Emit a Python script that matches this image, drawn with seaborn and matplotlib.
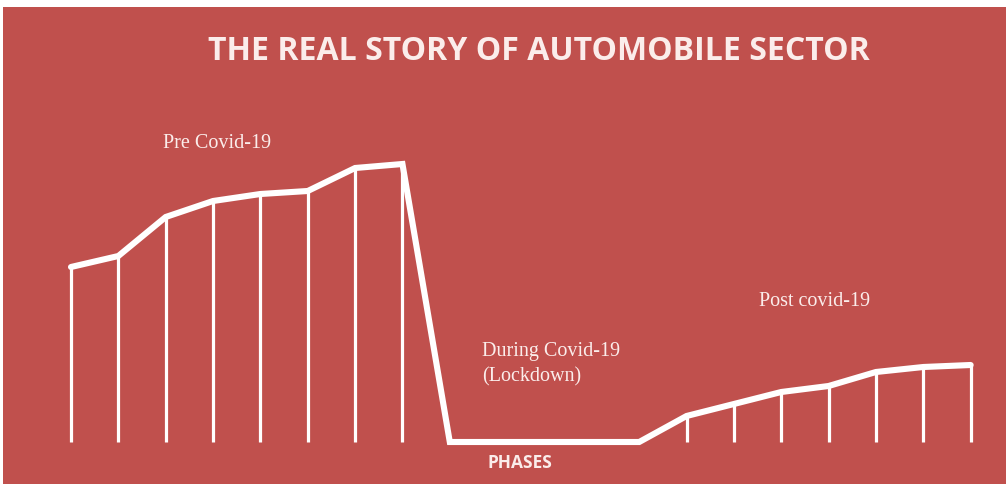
import matplotlib
matplotlib.use("Agg")
import matplotlib.pyplot as plt
import seaborn as sns
import pandas as pd

# Sales index per period, grouped by phase
pre_covid = [175, 186, 225, 241, 248, 251, 274, 278]
lockdown = [0, 0, 0, 0, 0]
post_covid = [26, 38, 50, 56, 70, 75, 77]

values = pre_covid + lockdown + post_covid
periods = list(range(len(values)))
phase_labels = ["Pre Covid-19", "During Covid-19\n(Lockdown)", "Post covid-19"]
title = "THE REAL STORY OF AUTOMOBILE SECTOR"
x_label = "PHASES"

df = pd.DataFrame({"period": periods, "value": values})

sns.set_style("white")
RED = "#C0504D"
INK = "#FBEDEB"

fig = plt.figure(figsize=(10.06, 4.85), dpi=100)
fig.patch.set_facecolor("white")
ax = fig.add_axes([3 / 1006, 0, 1003 / 1006, 477 / 485])
ax.set_facecolor(RED)

# drop lines from the baseline to each non-zero point
stems = df[df["value"] > 0]
ax.vlines(stems["period"], 0, stems["value"], color="white", lw=2.3, zorder=2)

sns.lineplot(data=df, x="period", y="value", ax=ax, color="white", lw=4.4,
             solid_joinstyle="miter", zorder=3)

step = 47.35
ax.set_xlim((3 - 71) / step, (1006 - 71) / step)
ax.set_ylim(-42, 435)
ax.set_xticks([])
ax.set_yticks([])
ax.set_xlabel("")
ax.set_ylabel("")
for s in ax.spines.values():
    s.set_visible(False)

serif = "Liberation Serif"
ax.text(3.08, 300, phase_labels[0], ha="center", va="center", color=INK,
        fontsize=14.5, family=serif)
ax.text(8.68, 79, phase_labels[1], ha="left", va="center", color=INK,
        fontsize=14.5, family=serif, linespacing=1.45)
ax.text(15.71, 141, phase_labels[2], ha="center", va="center", color=INK,
        fontsize=14.5, family=serif)

fig.text(539 / 1006, 1 - 52 / 485, title, ha="center", va="center",
         color=INK, fontsize=23, fontweight="bold", family="Open Sans")
fig.text(520 / 1006, 1 - 463 / 485, x_label, ha="center", va="center",
         color=INK, fontsize=12.5, fontweight="bold", family="Open Sans")

fig.savefig("out.png", dpi=100, facecolor=fig.get_facecolor())
